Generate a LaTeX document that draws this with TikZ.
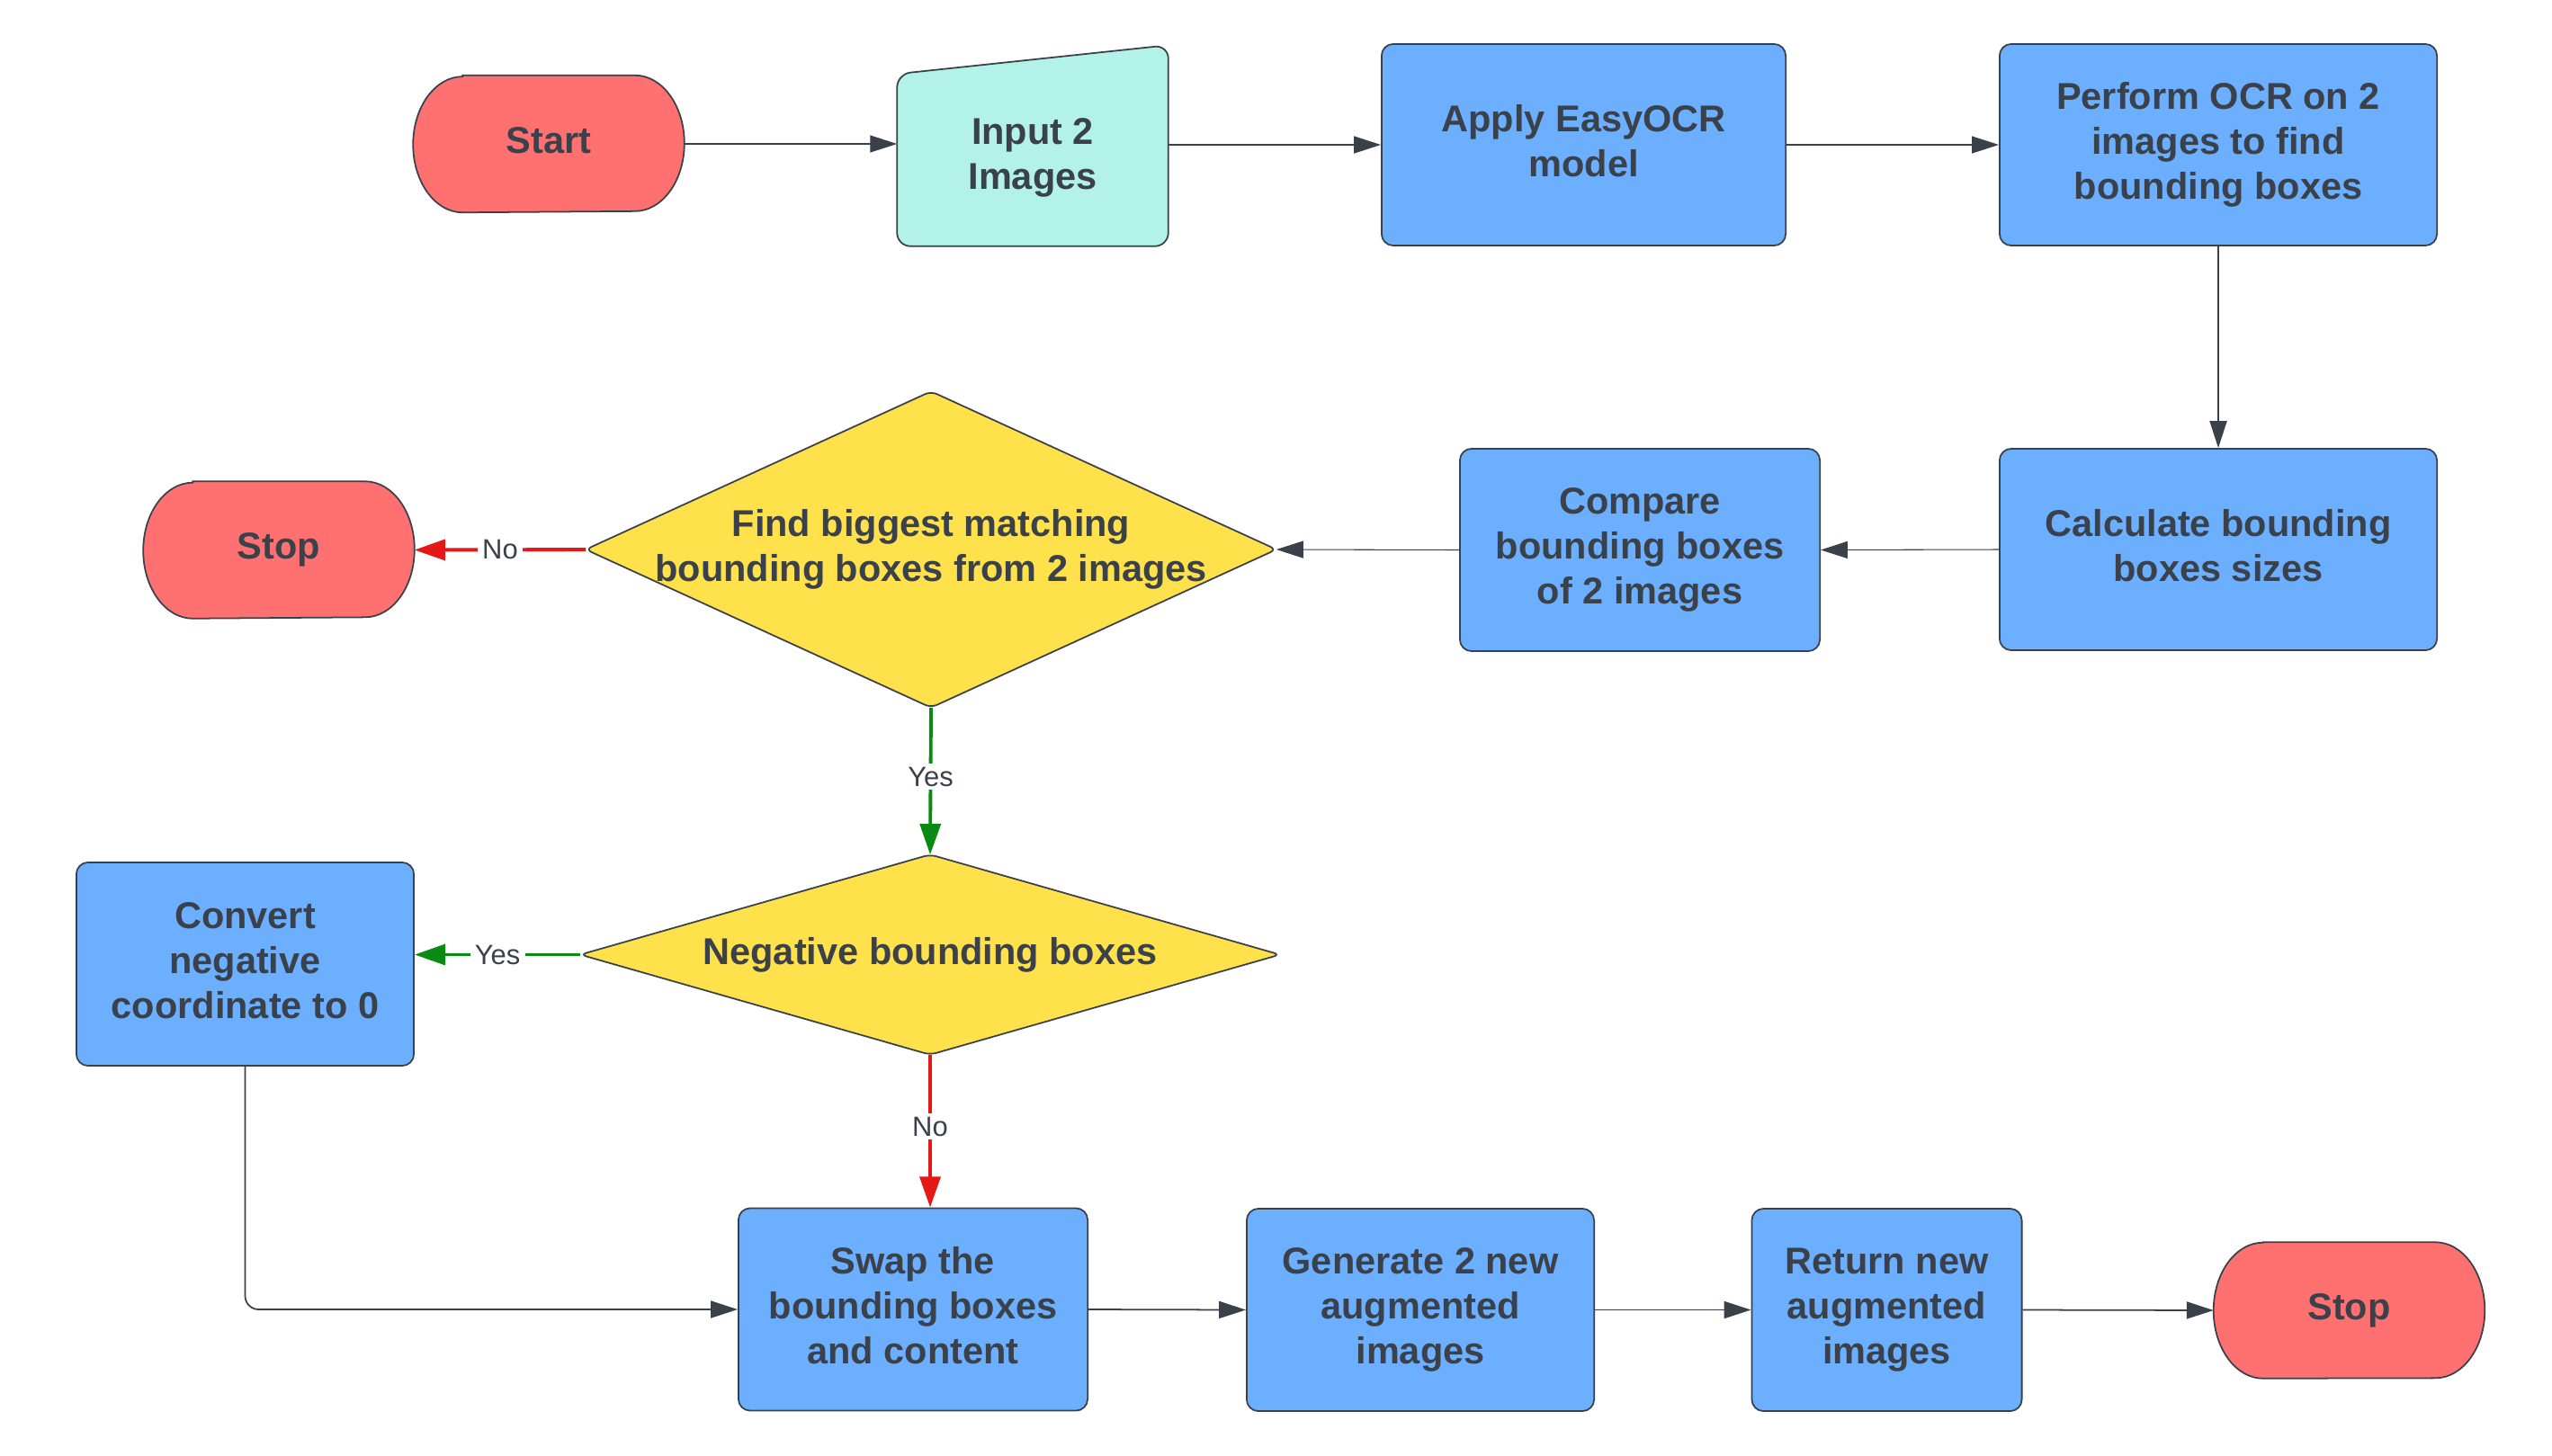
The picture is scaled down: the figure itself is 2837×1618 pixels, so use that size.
\documentclass[tikz,border=0pt]{standalone}
\usepackage{fontspec}
\setmainfont{Liberation Sans}
\usetikzlibrary{arrows.meta,backgrounds,calc}
\definecolor{txt}{HTML}{3A414A}
\definecolor{redfill}{HTML}{FF7171}
\definecolor{bluefill}{HTML}{6CAFFF}
\definecolor{tealfill}{HTML}{B3F2E9}
\definecolor{yellowfill}{HTML}{FFE14B}
\definecolor{linered}{HTML}{E61717}
\definecolor{linegreen}{HTML}{098A13}
\newcommand\termbg[1]{%
  \draw[outline, fill=redfill] ($(#1.north west)+(0.55cm,0)$) -- ($(#1.north east)+(-0.55cm,0)$)
    arc[start angle=90,end angle=-90,x radius=0.55cm,y radius=0.755cm]
    -- ($(#1.south west)+(0.55cm,0)$)
    arc[start angle=270,end angle=90,x radius=0.55cm,y radius=0.755cm] -- cycle;}
\newcommand\diamondbg[1]{%
  \draw[outline, fill=yellowfill, rounded corners=0.07cm] ($(#1.north)!0.5!(#1.east)$) -- (#1.east) -- (#1.south) -- (#1.west) -- (#1.north) -- cycle;}
\begin{document}
\begin{tikzpicture}[x=0.01cm,y=-0.01cm,
  lbl/.style={font=\fontsize{11.8}{14.2}\selectfont\bfseries, text=txt, align=center, inner sep=0pt, text depth=2.5pt},
  proc/.style={lbl, rectangle, draw=txt, fill=bluefill, line width=0.5pt, rounded corners=0.13cm},
  holder/.style={lbl, rectangle, draw=none},
  outline/.style={draw=txt, line width=0.5pt},
  conn/.style={draw=txt, line width=0.5pt, -{Triangle[length=8.5pt,width=5.4pt]}},
  thinconn/.style={conn, line width=0.3pt},
  yesarrow/.style={draw=linegreen, line width=1.1pt, -{Triangle[length=9.7pt,width=6.5pt]}},
  noarrow/.style={draw=linered, line width=1.1pt, -{Triangle[length=9.7pt,width=6.5pt]}},
  tag/.style={font=\fontsize{8.8}{10}\selectfont, text=txt, fill=white, inner xsep=1.5pt, inner ysep=1pt}
]
\useasboundingbox (0,0) rectangle (2837,1618);

\node[holder, minimum width=3cm, minimum height=1.51cm] (start) at (610,160) {Start};
\node[holder, minimum width=3cm, minimum height=1.96cm] (input) at (1148,175) {Input 2\\Images};
\node[proc, minimum width=4.49cm, minimum height=2.24cm] (apply) at (1760.5,161) {Apply EasyOCR\\model};
\node[proc, minimum width=4.86cm, minimum height=2.24cm] (perform) at (2466,161) {Perform OCR on 2\\images to find\\bounding boxes};
\node[proc, minimum width=4.86cm, minimum height=2.24cm] (calc) at (2466,611) {Calculate bounding\\boxes sizes};
\node[proc, minimum width=4.0cm, minimum height=2.25cm] (compare) at (1823,611.5) {Compare\\bounding boxes\\of 2 images};
\node[holder, minimum width=7.66cm, minimum height=3.5cm] (d1) at (1035,611) {Find biggest matching\\bounding boxes from 2 images};
\node[holder, minimum width=3cm, minimum height=1.51cm] (stop1) at (310,611.5) {Stop};
\node[holder, minimum width=7.76cm, minimum height=2.21cm] (d2) at (1034,1061.5) {Negative bounding boxes};
\node[proc, minimum width=3.75cm, minimum height=2.26cm] (conv) at (272.5,1072) {Convert\\negative\\coordinate to 0};
\node[proc, minimum width=3.88cm, minimum height=2.25cm] (swap) at (1015,1456) {Swap the\\bounding boxes\\and content};
\node[proc, minimum width=3.86cm, minimum height=2.25cm] (gen) at (1579,1456.5) {Generate 2 new\\augmented\\images};
\node[proc, minimum width=3.0cm, minimum height=2.25cm] (ret) at (2097.5,1456.5) {Return new\\augmented\\images};
\node[holder, minimum width=3cm, minimum height=1.5cm] (stop2) at (2611.5,1457) {Stop};

\begin{pgfonlayer}{background}
  \fill[white] (0,0) rectangle (2837,1618);
  \termbg{start}
  \termbg{stop1}
  \termbg{stop2}
  \draw[outline, fill=tealfill, rounded corners=0.15cm] (input.south) -- (input.south west)
    -- ($(input.north west)+(0,6)$) -- ($(input.north east)+(0,-26)$) -- (input.south east) -- cycle;
  \diamondbg{d1}
  \diamondbg{d2}
\end{pgfonlayer}

\draw[thinconn] (start.east) -- (start.east -| input.west);
\draw[conn] (input.east |- apply.west) -- (apply.west);
\draw[thinconn] (apply.east) -- (perform.west);
\draw[conn] (perform.south) -- (calc.north);
\draw[thinconn] (calc.west) -- (compare.east);
\draw[thinconn] (compare.west) -- (d1.east);
\draw[noarrow] (d1.west) -- node[tag] (lno1) {No} (stop1.east);
\draw[yesarrow] (d1.south) -- node[tag, pos=0.47] (lyes1) {Yes} (d2.north);
\draw[yesarrow] (d2.west) -- node[tag] (lyes2) {Yes} (d2.west -| conv.east);
\draw[noarrow] (d2.south) -- node[tag, pos=0.47] (lno2) {No} (d2.south |- swap.north);
\draw[conn, rounded corners=0.15cm] (conv.south) |- (swap.west);
\draw[conn] (swap.east) -- (gen.west);
\draw[conn] (gen.east) -- (ret.west);
\draw[conn] (ret.east) -- (stop2.west);
\end{tikzpicture}
\end{document}
